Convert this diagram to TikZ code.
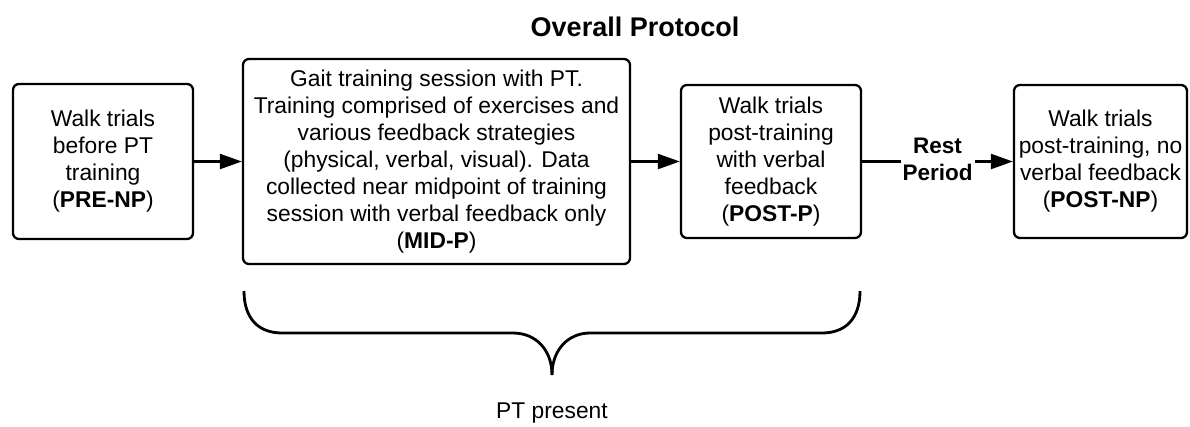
\documentclass[tikz,border=0pt]{standalone}
\usepackage{fontspec}
\setmainfont{Liberation Sans}
\usetikzlibrary{arrows.meta}
\tikzset{
  stagebox/.style={draw, line width=2.3pt, rounded corners=6pt, align=center, inner sep=0pt,
    font=\fontsize{22.8}{27}\selectfont},
  flowarrow/.style={line width=2.3pt, -{Triangle[length=22pt,width=15pt]}},
  bracepath/.style={line width=2.8pt},
  plainlabel/.style={font=\fontsize{22.8}{27}\selectfont, align=center, inner sep=0pt},
  boldlabel/.style={font=\fontsize{22.5}{27}\selectfont\bfseries, align=center},
}
\begin{document}
\begin{tikzpicture}[x=1pt,y=-1pt]
\useasboundingbox (0,0) rectangle (1190,426);
\node[font=\fontsize{27}{30}\selectfont\bfseries] (title) at (635,27) {Overall Protocol};
\node[stagebox, minimum width=180pt, minimum height=155pt] (b1) at (103,161.5)
  {Walk trials\\before PT\\training\\(\textbf{PRE-NP})};
\node[stagebox, minimum width=387pt, minimum height=205pt] (b2) at (436.5,161.5)
  {Gait training session with PT.\\Training comprised of exercises and\\various feedback strategies\\(physical, verbal, visual). Data\\collected near midpoint of training\\session with verbal feedback only\\(\textbf{MID-P})};
\node[stagebox, minimum width=180pt, minimum height=153pt] (b3) at (771,161.5)
  {Walk trials\\post-training\\with verbal\\feedback\\(\textbf{POST-P})};
\node[stagebox, minimum width=173pt, minimum height=153pt] (b4) at (1100.5,161.5)
  {Walk trials\\post-training, no\\verbal feedback\\(\textbf{POST-NP})};
\draw[flowarrow] (b1) -- (b2);
\draw[flowarrow] (b2) -- (b3);
\draw[flowarrow] (b3) -- node[boldlabel, fill=white, inner sep=2pt, yshift=2pt] (rest) {Rest\\Period} (b4);
\coordinate (brL) at (244,291);
\coordinate (brR) at (860,291);
\coordinate (brT) at (552,375);
\draw[bracepath] (brL) .. controls (244,318) and (258,333) .. (282,333) -- (513,333)
  .. controls (536,333) and (552,350) .. (brT);
\draw[bracepath] (brR) .. controls (860,318) and (846,333) .. (822,333) -- (590,333)
  .. controls (568,333) and (552,350) .. (brT);
\node[plainlabel] (pt) at (552,413) {PT present};
\end{tikzpicture}
\end{document}
